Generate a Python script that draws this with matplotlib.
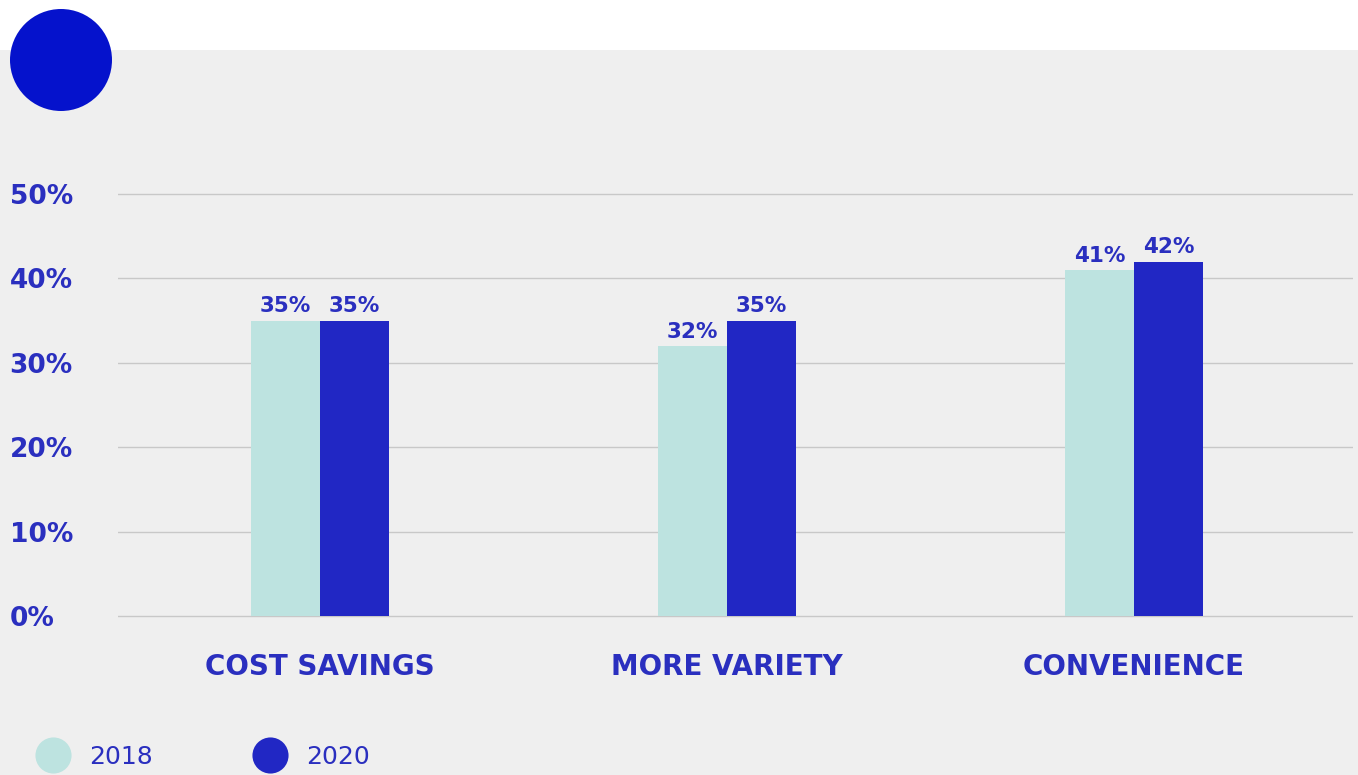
import matplotlib.pyplot as plt
from matplotlib.lines import Line2D
from matplotlib.patches import Circle, Rectangle
import numpy as np

# Datos
categorias = ['COST SAVINGS', 'MORE VARIETY', 'CONVENIENCE']
valores_2018 = [35, 32, 41]
valores_2020 = [35, 35, 42]
series = ['2018', '2020']
ticks_y = [0, 10, 20, 30, 40, 50]
etiquetas_y = ['0%', '10%', '20%', '30%', '40%', '50%']

color_2018 = '#bde3e0'
color_2020 = '#2127c4'
color_texto = '#2a2fbf'
fondo = '#efefef'

fig = plt.figure(figsize=(13.58, 7.75), dpi=100, facecolor='white')

# Banda gris de fondo (debajo de la franja blanca superior)
fig.patches.append(Rectangle((0, 0), 1, (775 - 50) / 775, transform=fig.transFigure,
                             facecolor=fondo, edgecolor='none', zorder=-10))

# Circulo azul decorativo
ax_c = fig.add_axes([10 / 1358, 1 - 111 / 775, 102 / 1358, 102 / 775])
ax_c.add_patch(Circle((0.5, 0.5), 0.5, facecolor='#0512cc', edgecolor='none'))
ax_c.set_xlim(0, 1)
ax_c.set_ylim(0, 1)
ax_c.axis('off')

# Ejes principales (0% en y=616 px, 10% = 8.44 px por punto)
ax = fig.add_axes([118 / 1358, (775 - 620) / 775, 1235 / 1358, (620 - 160) / 775])
ax.set_facecolor('none')

x = np.arange(len(categorias))
ancho = 69 / 407

b1 = ax.bar(x - ancho / 2, valores_2018, ancho, color=color_2018, zorder=3)
b2 = ax.bar(x + ancho / 2, valores_2020, ancho, color=color_2020, zorder=3)

for barras, vals in [(b1, valores_2018), (b2, valores_2020)]:
    for barra, v in zip(barras, vals):
        ax.annotate(f'{v}%', (barra.get_x() + barra.get_width() / 2, barra.get_height()),
                    xytext=(0, 3), textcoords='offset points', ha='center', va='bottom',
                    fontsize=15.5, fontweight='bold', color=color_texto)

ax.set_xlim(-(320 - 118) / 407, 2 + (1353 - 1134) / 407)
ax.set_ylim(-4 / 8.44, (616 - 160) / 8.44)

ax.set_yticks(ticks_y)
ax.set_yticklabels(etiquetas_y, fontsize=19, fontweight='bold', color=color_texto)
for lbl in ax.get_yticklabels():
    lbl.set_horizontalalignment('left')
ax.tick_params(axis='y', length=0, pad=78)

ax.set_xticks(x)
ax.set_xticklabels(categorias, fontsize=20, fontweight='bold', color=color_texto)
ax.tick_params(axis='x', length=0, pad=24)

ax.grid(True, axis='y', color='#c8c8c8', linewidth=1, zorder=0)
for s in ax.spines.values():
    s.set_visible(False)

# Leyenda con circulos
handles = [Line2D([], [], marker='o', linestyle='none', markersize=26,
                  markerfacecolor=c, markeredgecolor='none')
           for c in [color_2018, color_2020]]
leg = fig.legend(handles, series, loc='lower left', bbox_to_anchor=(5 / 1358, -16 / 775),
                 ncol=2, frameon=False, fontsize=18, handletextpad=0.45,
                 columnspacing=3.7, labelcolor=color_texto)

fig.savefig('out.png', dpi=100, facecolor='white')
